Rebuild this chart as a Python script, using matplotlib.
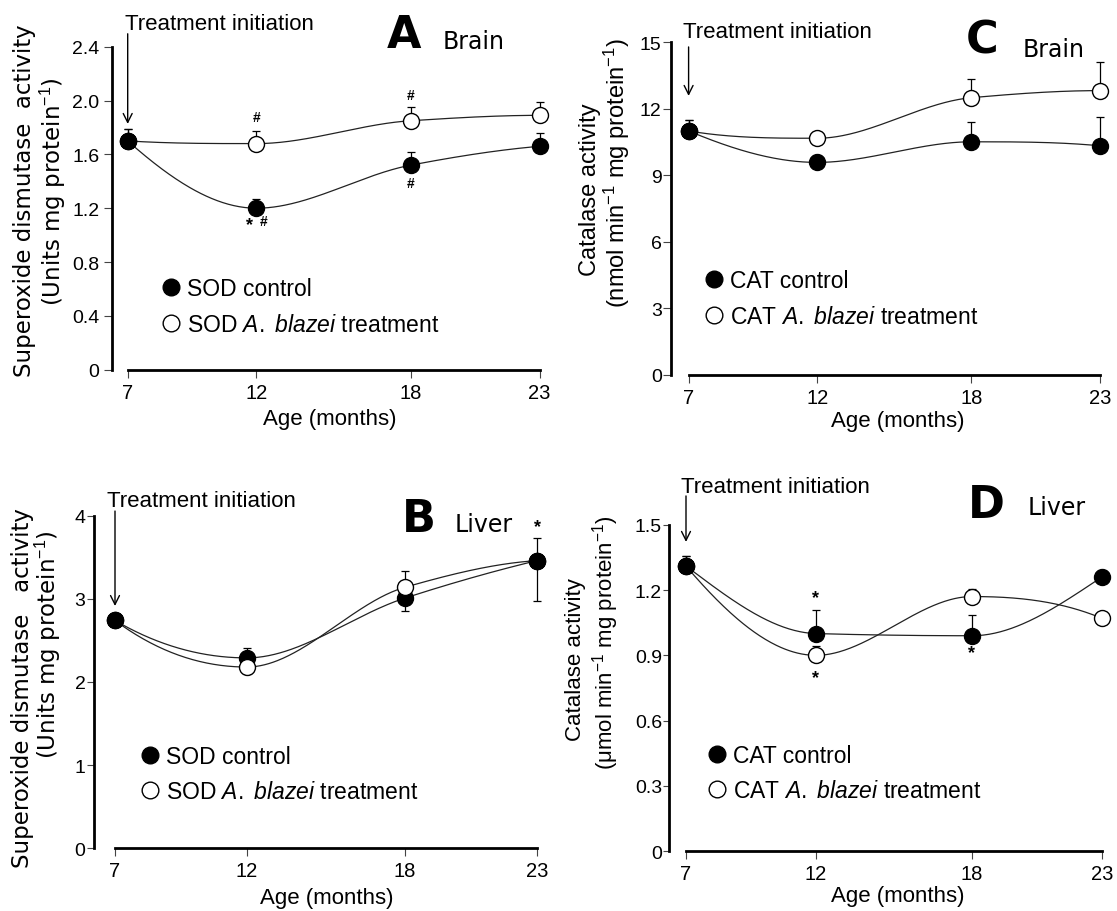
import numpy as np
import matplotlib
matplotlib.use('Agg')
import matplotlib.pyplot as plt
from matplotlib.lines import Line2D

plt.rcParams['font.family'] = ['Liberation Sans', 'DejaVu Sans']
plt.rcParams['mathtext.fontset'] = 'custom'
plt.rcParams['mathtext.rm'] = 'Liberation Sans'
plt.rcParams['mathtext.it'] = 'Liberation Sans:italic'
plt.rcParams['mathtext.bf'] = 'Liberation Sans:bold'

# ---------------- data ----------------
ages = [7, 12, 18, 23]
age_labels = ['7', '12', '18', '23']

# A: SOD brain
sod_brain_ctrl = [1.70, 1.20, 1.52, 1.66]
sod_brain_ctrl_err = [0.09, 0.07, 0.10, 0.10]
sod_brain_trt = [1.70, 1.68, 1.85, 1.89]
sod_brain_trt_err = [0.09, 0.09, 0.10, 0.10]
sod_brain_yticks = [0, 0.4, 0.8, 1.2, 1.6, 2.0, 2.4]
sod_brain_ylabels = ['0', '0.4', '0.8', '1.2', '1.6', '2.0', '2.4']

# C: CAT brain
cat_brain_ctrl = [11.0, 9.58, 10.51, 10.33]
cat_brain_ctrl_err = [0.50, 0.32, 0.88, 1.30]
cat_brain_trt = [11.0, 10.67, 12.50, 12.82]
cat_brain_trt_err = [0.50, 0.30, 0.84, 1.28]
cat_brain_yticks = [0, 3, 6, 9, 12, 15]
cat_brain_ylabels = ['0', '3', '6', '9', '12', '15']

# B: SOD liver
sod_liver_ctrl = [2.74, 2.29, 3.01, 3.46]
sod_liver_ctrl_err_lo = [0.0, 0.0, 0.16, 0.49]
sod_liver_ctrl_err_hi = [0.0, 0.12, 0.0, 0.0]
sod_liver_trt = [2.74, 2.18, 3.14, 3.46]
sod_liver_trt_err_lo = [0.0, 0.08, 0.0, 0.0]
sod_liver_trt_err_hi = [0.0, 0.0, 0.20, 0.27]
sod_liver_yticks = [0, 1, 2, 3, 4]
sod_liver_ylabels = ['0', '1', '2', '3', '4']

# D: CAT liver
cat_liver_ctrl = [1.31, 1.00, 0.99, 1.26]
cat_liver_ctrl_err = [0.045, 0.11, 0.095, 0.03]
cat_liver_trt = [1.31, 0.90, 1.17, 1.07]
cat_liver_trt_err = [0.045, 0.045, 0.035, 0.0]
cat_liver_yticks = [0, 0.3, 0.6, 0.9, 1.2, 1.5]
cat_liver_ylabels = ['0', '0.3', '0.6', '0.9', '1.2', '1.5']

zeros = [0.0, 0.0, 0.0, 0.0]

W, H = 1117, 912
fig = plt.figure(figsize=(W / 100, H / 100), dpi=100)


def pchip(x, y, num=300):
    """Shape-preserving piecewise cubic Hermite curve through the points."""
    x = np.asarray(x, float)
    y = np.asarray(y, float)
    n = len(x)
    h = np.diff(x)
    dl = np.diff(y) / h
    d = np.zeros(n)
    for k in range(1, n - 1):
        if dl[k - 1] * dl[k] <= 0:
            d[k] = 0.0
        else:
            w1 = 2 * h[k] + h[k - 1]
            w2 = h[k] + 2 * h[k - 1]
            d[k] = (w1 + w2) / (w1 / dl[k - 1] + w2 / dl[k])

    def edge(h0, h1, m0, m1):
        v = ((2 * h0 + h1) * m0 - h0 * m1) / (h0 + h1)
        if np.sign(v) != np.sign(m0):
            v = 0.0
        elif np.sign(m0) != np.sign(m1) and abs(v) > abs(3 * m0):
            v = 3 * m0
        return v

    d[0] = edge(h[0], h[1], dl[0], dl[1])
    d[-1] = edge(h[-1], h[-2], dl[-1], dl[-2])
    xs = np.linspace(x[0], x[-1], num)
    idx = np.clip(np.searchsorted(x, xs) - 1, 0, n - 2)
    hh = h[idx]
    t = (xs - x[idx]) / hh
    h00 = 2 * t ** 3 - 3 * t ** 2 + 1
    h10 = t ** 3 - 2 * t ** 2 + t
    h01 = -2 * t ** 3 + 3 * t ** 2
    h11 = t ** 3 - t ** 2
    ys = h00 * y[idx] + h10 * hh * d[idx] + h01 * y[idx + 1] + h11 * hh * d[idx + 1]
    return xs, ys


def make_ax(spine_x, x7, x23, y0px, ytop, ymax, ylen, ypad):
    sx = (x23 - x7) / 16.0
    xmin = 7 - (x7 - spine_x) / sx
    right = x23 + 10
    xmax = 23 + 10 / sx
    ax = fig.add_axes([spine_x / W, 1 - y0px / H, (right - spine_x) / W, (y0px - ytop) / H])
    ax.set_xlim(xmin, xmax)
    ax.set_ylim(0, ymax)
    for s in ('top', 'right'):
        ax.spines[s].set_visible(False)
    ax.spines['left'].set_linewidth(2.0)
    ax.spines['bottom'].set_linewidth(2.0)
    ax.spines['bottom'].set_bounds(7, 23)
    ax.patch.set_alpha(0)
    ax.set_xticks(ages)
    ax.set_xticklabels(age_labels)
    ax.tick_params(axis='x', length=5.5, width=0.8, pad=4, labelsize=14.5, color='#444444')
    ax.tick_params(axis='y', length=ylen, width=0.8, pad=ypad, labelsize=14, color='#444444')
    return ax


def draw_series(ax, ctrl, ctrl_lo, ctrl_hi, trt, trt_lo, trt_hi):
    for vals in (ctrl, trt):
        xs, ys = pchip(ages, vals)
        ax.plot(xs, ys, color='#222222', lw=0.9, zorder=2, clip_on=False)
    ax.errorbar(ages, ctrl, yerr=[ctrl_lo, ctrl_hi], fmt='none', ecolor='black',
                elinewidth=0.9, capsize=3, capthick=0.9, zorder=3, clip_on=False)
    ax.errorbar(ages, trt, yerr=[trt_lo, trt_hi], fmt='none', ecolor='black',
                elinewidth=0.9, capsize=3, capthick=0.9, zorder=3, clip_on=False)
    ax.plot(ages, ctrl, 'o', ms=11.5, mfc='black', mec='black', mew=1, zorder=4, clip_on=False)
    ax.plot(ages, trt, 'o', ms=11.5, mfc='white', mec='black', mew=1, zorder=5, clip_on=False)
    c = np.asarray(ctrl)
    t = np.asarray(trt)
    same = np.isclose(c, t)
    ax.plot(np.asarray(ages)[same], c[same], 'o', ms=11.5, mfc='black', mec='black',
            mew=1, zorder=6, clip_on=False)


def legend(ax, prefix, left_px, cy_px):
    h1 = Line2D([], [], marker='o', ls='none', ms=12, mfc='black', mec='black')
    h2 = Line2D([], [], marker='o', ls='none', ms=12, mfc='white', mec='black')
    ax.legend([h1, h2], [prefix + ' control',
                         prefix + r' $\mathit{A.}$ $\mathit{blazei}$ treatment'],
              loc='center left', bbox_to_anchor=(left_px / W, 1 - cy_px / H),
              bbox_transform=fig.transFigure, frameon=False, fontsize=16.5,
              handlelength=1.0, handletextpad=0.2, labelspacing=0.55,
              borderpad=0, borderaxespad=0)


def initiation(ax, text_x, text_y, y_start, y_tip):
    fig.text(text_x / W, 1 - text_y / H, 'Treatment initiation', fontsize=16,
             ha='left', va='center')
    ax.annotate('', xy=(7, y_tip), xytext=(7, y_start),
                arrowprops=dict(arrowstyle='->', lw=1.0, color='black',
                                mutation_scale=16, shrinkA=0, shrinkB=0),
                annotation_clip=False)


def ylabel(x, y, text, fam, size):
    fig.text(x / W, 1 - y / H, text, rotation=90, ha='center', va='center',
             fontsize=size, family=fam)


def panel_title(x_letter, y_letter, letter, x_word, y_word, word):
    fig.text(x_letter / W, 1 - y_letter / H, letter, fontsize=32, fontweight='bold',
             family='DejaVu Sans', ha='center', va='center')
    fig.text(x_word / W, 1 - y_word / H, word, fontsize=17, family='DejaVu Sans',
             ha='left', va='center')


def marks(ax, items):
    for x, y, s in items:
        size = 10 if s == '#' else 13
        ax.text(x, y, s, fontsize=size, fontweight='bold', ha='center', va='center',
                clip_on=False)


def xlabel(x, y):
    fig.text(x / W, 1 - y / H, 'Age (months)', fontsize=16, ha='center', va='center')


# ---------------- Panel A ----------------
axA = make_ax(111.7, 127.7, 539.5, 370.7, 47.7, 2.4, 6, 3)
axA.set_yticks(sod_brain_yticks)
axA.set_yticklabels(sod_brain_ylabels)
draw_series(axA, sod_brain_ctrl, zeros, sod_brain_ctrl_err,
            sod_brain_trt, zeros, sod_brain_trt_err)
marks(axA, [(12, 1.876, '#'), (18, 2.044, '#'), (11.72, 1.075, '*'),
            (12.3, 1.105, '#'), (18, 1.386, '#')])
legend(axA, 'SOD', 159.5, 307.5)
initiation(axA, 125, 25, 2.496, 1.826)
panel_title(404, 35, 'A', 443, 42, 'Brain')
ylabel(25, 201, 'Superoxide dismutase  activity', 'DejaVu Sans', 16.5)
ylabel(53, 192, r'(Units mg protein$^{-1}$)', 'DejaVu Sans', 16.5)
xlabel(330, 420)

# ---------------- Panel C ----------------
axC = make_ax(671.4, 688.6, 1100, 375.7, 43.3, 15, 6, 1)
axC.set_yticks(cat_brain_yticks)
axC.set_yticklabels(cat_brain_ylabels)
draw_series(axC, cat_brain_ctrl, zeros, cat_brain_ctrl_err,
            cat_brain_trt, zeros, cat_brain_trt_err)
legend(axC, 'CAT', 703, 299.5)
initiation(axC, 683, 33, 14.79, 12.58)
panel_title(982, 41, 'C', 1023, 50, 'Brain')
ylabel(590, 190, 'Catalase activity', 'Liberation Sans', 17)
ylabel(617, 173, r'(nmol min$^{-1}$ mg protein$^{-1}$)', 'Liberation Sans', 17)
xlabel(898, 422)

# ---------------- Panel B ----------------
axB = make_ax(93.5, 115, 537, 849.3, 516.7, 4, 5, 0.8)
axB.set_yticks(sod_liver_yticks)
axB.set_yticklabels(sod_liver_ylabels)
draw_series(axB, sod_liver_ctrl, sod_liver_ctrl_err_lo, sod_liver_ctrl_err_hi,
            sod_liver_trt, sod_liver_trt_err_lo, sod_liver_trt_err_hi)
marks(axB, [(23, 3.87, '*')])
legend(axB, 'SOD', 138.5, 775)
initiation(axB, 107, 502, 4.056, 2.914)
panel_title(419, 520, 'B', 455, 525, 'Liver')
ylabel(23, 688, 'Superoxide dismutase   activity', 'DejaVu Sans', 16.5)
ylabel(48, 645, r'(Units mg protein$^{-1}$)', 'DejaVu Sans', 16.5)
xlabel(327, 899)

# ---------------- Panel D ----------------
axD = make_ax(669, 686, 1102, 852.3, 525.7, 1.5, 4.5, 0.5)
axD.set_yticks(cat_liver_yticks)
axD.set_yticklabels(cat_liver_ylabels)
draw_series(axD, cat_liver_ctrl, zeros, cat_liver_ctrl_err,
            cat_liver_trt, zeros, cat_liver_trt_err)
marks(axD, [(12, 1.167, '*'), (12, 0.80, '*'), (18, 0.914, '*')])
legend(axD, 'CAT', 705.5, 774)
initiation(axD, 681, 488, 1.632, 1.421)
panel_title(986, 506, 'D', 1028, 508, 'Liver')
ylabel(576, 660, 'Catalase activity', 'Liberation Sans', 16)
ylabel(606, 643, r'($\mathrm{\mu}$mol min$^{-1}$ mg protein$^{-1}$)', 'Liberation Sans', 16)
xlabel(898, 897)

fig.savefig('out.png', dpi=100)
